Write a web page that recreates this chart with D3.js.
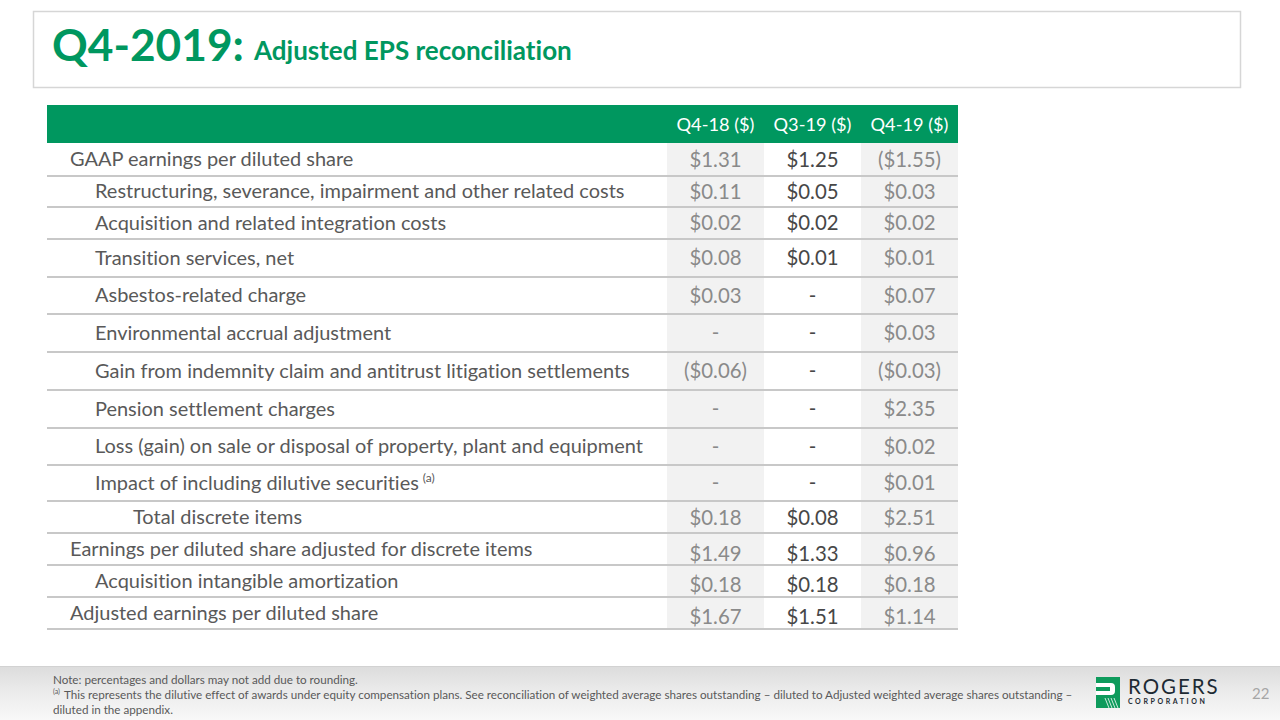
<!DOCTYPE html>
<html>
<head>
<meta charset="utf-8">
<script src="https://cdn.jsdelivr.net/npm/d3@7"></script>
<style>
  body { margin: 0; background: #fff; }
  svg { display: block; font-family: Lato, 'Open Sans', sans-serif; font-variant-ligatures: none; }
</style>
</head>
<body>
<div id="chart"></div>
<script>
// table data
const columns = ['Q4-18 ($)', 'Q3-19 ($)', 'Q4-19 ($)'];

const rowLabels = [
  'GAAP earnings per diluted share',
  'Restructuring, severance, impairment and other related costs',
  'Acquisition and related integration costs',
  'Transition services, net',
  'Asbestos-related charge',
  'Environmental accrual adjustment',
  'Gain from indemnity claim and antitrust litigation settlements',
  'Pension settlement charges',
  'Loss (gain) on sale or disposal of property, plant and equipment',
  'Impact of including dilutive securities',
  'Total discrete items',
  'Earnings per diluted share adjusted for discrete items',
  'Acquisition intangible amortization',
  'Adjusted earnings per diluted share',
];

// 0 = flush, 1 = indented, 2 = double indent
const rowIndent = [0, 1, 1, 1, 1, 1, 1, 1, 1, 1, 2, 0, 1, 0];

const q418 = [1.31, 0.11, 0.02, 0.08, 0.03, null, -0.06, null, null, null, 0.18, 1.49, 0.18, 1.67];
const q319 = [1.25, 0.05, 0.02, 0.01, null, null, null, null, null, null, 0.08, 1.33, 0.18, 1.51];
const q419 = [-1.55, 0.03, 0.02, 0.01, 0.07, 0.03, -0.03, 2.35, 0.02, 0.01, 2.51, 0.96, 0.18, 1.14];

const footnotes = [
  'Note: percentages and dollars may not add due to rounding.',
  'This represents the dilutive effect of awards under equity compensation plans. See reconciliation of weighted average shares outstanding \u2013 diluted to Adjusted weighted average shares outstanding \u2013',
  'diluted in the appendix.',
];

const green = '#00975f';

function fmt(d) {
  if (d == null) return '-';
  return d < 0 ? `($${(-d).toFixed(2)})` : `$${d.toFixed(2)}`;
}

// shrink/grow a font so the text fills a given width
function fitFont(text, base, width) {
  const w = text.node().getComputedTextLength();
  text.attr('font-size', base * width / w);
  return base * width / w;
}

function drawSlide() {
  const width = 1280;
  const height = 720;

  const svg = d3.select('#chart')
    .append('svg')
    .attr('width', width)
    .attr('height', height);

  const defs = svg.append('defs');
  const grad = defs.append('linearGradient')
    .attr('id', 'foot')
    .attr('x1', 0).attr('y1', 0).attr('x2', 0).attr('y2', 1);
  grad.append('stop').attr('offset', 0).attr('stop-color', '#dcdcdc');
  grad.append('stop').attr('offset', 0.5).attr('stop-color', '#ececec');
  grad.append('stop').attr('offset', 1).attr('stop-color', '#f8f8f8');

  // title box
  svg.append('rect')
    .attr('x', 33.5).attr('y', 11.5)
    .attr('width', 1207).attr('height', 76)
    .attr('fill', '#fff')
    .attr('stroke', '#d6d6d6')
    .attr('stroke-width', 1.5);

  const t1 = svg.append('text')
    .attr('x', 52).attr('y', 61)
    .attr('fill', green)
    .attr('font-weight', 700)
    .attr('font-size', 40)
    .text('Q4-2019:');
  fitFont(t1, 40, 192);

  const t2 = svg.append('text')
    .attr('x', 254).attr('y', 60)
    .attr('fill', green)
    .attr('font-weight', 700)
    .attr('font-size', 22)
    .text('Adjusted EPS reconciliation');
  fitFont(t2, 22, 318);

  // table layout
  const tableLeft = 47;
  const tableRight = 958;
  const headTop = 105;
  const headBottom = 143;
  const rowHeights = [33, 31, 32, 38, 37, 38, 38, 38, 37, 36, 32, 32, 32, 32];
  const valueShift = [0, 0, 0, 0, 0, 0, 0, 0, 0, 0, 1, 5, 4, 4];
  const labelShift = [0, 0, 0, 0, 0, 0, 0, 0, 0, 0, 0, 0, 0, 0];
  const indentX = [70, 95, 133];

  const rowTops = [];
  let acc = headBottom;
  rowHeights.forEach((h) => { rowTops.push(acc); acc += h; });
  const tableBottom = acc;

  const x = d3.scaleBand()
    .domain(columns)
    .range([667, tableRight]);

  const series = [q418, q319, q419];

  // shaded columns
  svg.append('g')
    .selectAll('rect')
    .data([columns[0], columns[2]])
    .join('rect')
    .attr('x', (d) => x(d))
    .attr('y', headBottom)
    .attr('width', x.bandwidth())
    .attr('height', tableBottom - headBottom)
    .attr('fill', '#f2f2f2');

  // header bar
  svg.append('rect')
    .attr('x', tableLeft).attr('y', headTop)
    .attr('width', tableRight - tableLeft)
    .attr('height', headBottom - headTop)
    .attr('fill', green);

  const heads = svg.append('g')
    .selectAll('text')
    .data(columns)
    .join('text')
    .attr('x', (d) => x(d) + x.bandwidth() / 2)
    .attr('y', 131)
    .attr('text-anchor', 'middle')
    .attr('fill', '#fff')
    .attr('font-size', 16)
    .text((d) => d);
  const hs = fitFont(d3.select(heads.nodes()[0]), 16, 78);
  heads.attr('font-size', hs);

  // row separators
  svg.append('g')
    .selectAll('line')
    .data(rowTops.slice(1).concat([tableBottom]))
    .join('line')
    .attr('x1', tableLeft).attr('x2', tableRight)
    .attr('y1', (d) => d).attr('y2', (d) => d)
    .attr('stroke', '#c8c8c8')
    .attr('stroke-width', 2);

  // row labels
  const labels = svg.append('g')
    .selectAll('text')
    .data(rowLabels)
    .join('text')
    .attr('x', (d, i) => indentX[rowIndent[i]])
    .attr('y', (d, i) => rowTops[i] + rowHeights[i] / 2 + labelShift[i])
    .attr('dy', '0.35em')
    .attr('fill', '#595959')
    .attr('font-size', 18)
    .text((d) => d);
  const ls = fitFont(d3.select(labels.nodes()[6]), 18, 535);
  labels.attr('font-size', ls);

  // superscript on the dilutive securities row
  d3.select(labels.nodes()[9])
    .append('tspan')
    .attr('dx', 4)
    .attr('dy', -8)
    .attr('font-size', ls * 0.6)
    .text('(a)');

  // values
  const cols = svg.append('g')
    .selectAll('g')
    .data(series)
    .join('g')
    .attr('transform', (d, i) => `translate(${x(columns[i]) + x.bandwidth() / 2},0)`);

  const vals = cols.selectAll('text')
    .data((d) => d)
    .join('text')
    .attr('y', (d, i) => rowTops[i] + rowHeights[i] / 2 + valueShift[i])
    .attr('dy', '0.35em')
    .attr('text-anchor', 'middle')
    .attr('fill', function () {
      return this.parentNode === cols.nodes()[1] ? '#474747' : '#8a8a8a';
    })
    .attr('font-size', 18)
    .text((d) => fmt(d));
  const vs = fitFont(d3.select(cols.nodes()[2]).select('text'), 18, 63);
  vals.attr('font-size', vs);

  // footer band
  svg.append('rect')
    .attr('x', 0).attr('y', 666)
    .attr('width', width).attr('height', 54)
    .attr('fill', 'url(#foot)');
  svg.append('line')
    .attr('x1', 0).attr('x2', width)
    .attr('y1', 666.5).attr('y2', 666.5)
    .attr('stroke', '#d2d2d2');

  const notes = svg.append('g')
    .selectAll('text')
    .data(footnotes)
    .join('text')
    .attr('x', (d, i) => (i === 1 ? 64 : 53))
    .attr('y', (d, i) => 684 + i * 15)
    .attr('fill', '#595959')
    .attr('font-size', 11)
    .text((d) => d);
  const ns = fitFont(d3.select(notes.nodes()[1]), 11, 1009);
  notes.attr('font-size', ns);

  svg.append('text')
    .attr('x', 53).attr('y', 694)
    .attr('fill', '#595959')
    .attr('font-size', 7)
    .text('(a)');

  // logo
  const logo = svg.append('g').attr('transform', 'translate(1096,677)');
  logo.append('rect').attr('width', 24).attr('height', 31).attr('fill', '#0e9b5c');
  logo.append('path')
    .attr('d', 'M0,6 H15 Q19,6 19,10 V14 Q19,18 15,18 H0 V14 H14 V10 H0 Z')
    .attr('fill', '#fff');
  logo.append('path')
    .attr('d', 'M9,21 L13,31 M12,21 L16,31 M15,21 L19,31 M18,21 L22,31')
    .attr('stroke', '#fff')
    .attr('stroke-width', 0.8);

  const rg = svg.append('text')
    .attr('x', 1128).attr('y', 694)
    .attr('fill', '#1d2a33')
    .attr('font-size', 20)
    .attr('letter-spacing', 2)
    .text('ROGERS');
  fitFont(rg, 20, 92);

  svg.append('text')
    .attr('x', 1128).attr('y', 704)
    .attr('fill', '#1d2a33')
    .attr('font-size', 7)
    .attr('font-weight', 700)
    .attr('letter-spacing', 2.6)
    .text('CORPORATION');

  svg.append('text')
    .attr('x', 1252).attr('y', 699)
    .attr('fill', '#a6a6a6')
    .attr('font-size', 15)
    .text('22');
}

document.addEventListener('DOMContentLoaded', () => {
  drawSlide();
});
</script>
</body>
</html>
